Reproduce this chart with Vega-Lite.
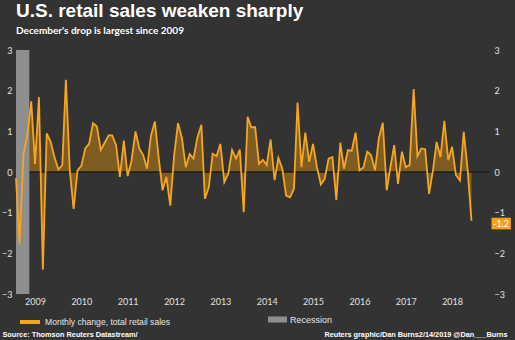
{
  "$schema": "https://vega.github.io/schema/vega-lite/v6.json",
  "width": 474,
  "height": 244,
  "autosize": "none",
  "padding": {"left": 16, "top": 50, "right": 25, "bottom": 46},
  "background": "#333333",
  "config": {
    "view": {"stroke": null},
    "legend": {"padding": 0, "rowPadding": 0}
  },
  "title": {
    "text": "U.S. retail sales weaken sharply",
    "subtitle": "December's drop is largest since 2009",
    "anchor": "start",
    "frame": "group",
    "font": "Liberation Sans",
    "fontSize": 19,
    "fontWeight": "bold",
    "color": "#ffffff",
    "subtitleFont": "Lato",
    "subtitleFontSize": 10,
    "subtitleFontWeight": "bold",
    "subtitleColor": "#ffffff",
    "subtitlePadding": 5,
    "offset": 10
  },
  "datasets": {
    "sales": [
      {"d": "2009-02-01", "v": -0.15}, {"d": "2009-03-01", "v": -1.76}, {"d": "2009-04-01", "v": 0.45}, {"d": "2009-05-01", "v": 0.9},
      {"d": "2009-06-01", "v": 1.74}, {"d": "2009-07-01", "v": 0.2}, {"d": "2009-08-01", "v": 1.84}, {"d": "2009-09-01", "v": -2.4},
      {"d": "2009-10-01", "v": 0.95}, {"d": "2009-11-01", "v": 0.74}, {"d": "2009-12-01", "v": 0.37},
      {"d": "2010-01-01", "v": 0.06}, {"d": "2010-02-01", "v": 0.17}, {"d": "2010-03-01", "v": 2.27}, {"d": "2010-04-01", "v": 0.04},
      {"d": "2010-05-01", "v": -0.91}, {"d": "2010-06-01", "v": 0.04}, {"d": "2010-07-01", "v": 0.15}, {"d": "2010-08-01", "v": 0.58},
      {"d": "2010-09-01", "v": 0.7}, {"d": "2010-10-01", "v": 1.2}, {"d": "2010-11-01", "v": 1.12}, {"d": "2010-12-01", "v": 0.54},
      {"d": "2011-01-01", "v": 0.72}, {"d": "2011-02-01", "v": 0.9}, {"d": "2011-03-01", "v": 0.9}, {"d": "2011-04-01", "v": 0.66},
      {"d": "2011-05-01", "v": -0.12}, {"d": "2011-06-01", "v": 0.77}, {"d": "2011-07-01", "v": -0.1}, {"d": "2011-08-01", "v": 0.29},
      {"d": "2011-09-01", "v": 1.0}, {"d": "2011-10-01", "v": 0.58}, {"d": "2011-11-01", "v": 0.41}, {"d": "2011-12-01", "v": 0.08},
      {"d": "2012-01-01", "v": 0.9}, {"d": "2012-02-01", "v": 1.24}, {"d": "2012-03-01", "v": 0.37}, {"d": "2012-04-01", "v": -0.45},
      {"d": "2012-05-01", "v": -0.12}, {"d": "2012-06-01", "v": -0.83}, {"d": "2012-07-01", "v": 0.4}, {"d": "2012-08-01", "v": 1.2},
      {"d": "2012-09-01", "v": 0.83}, {"d": "2012-10-01", "v": 0.12}, {"d": "2012-11-01", "v": 0.44}, {"d": "2012-12-01", "v": 0.33},
      {"d": "2013-01-01", "v": 0.85}, {"d": "2013-02-01", "v": 1.16}, {"d": "2013-03-01", "v": -0.66}, {"d": "2013-04-01", "v": -0.37},
      {"d": "2013-05-01", "v": 0.45}, {"d": "2013-06-01", "v": 0.39}, {"d": "2013-07-01", "v": 0.69}, {"d": "2013-08-01", "v": -0.25},
      {"d": "2013-09-01", "v": -0.04}, {"d": "2013-10-01", "v": 0.54}, {"d": "2013-11-01", "v": 0.33}, {"d": "2013-12-01", "v": 0.55},
      {"d": "2014-01-01", "v": -0.99}, {"d": "2014-02-01", "v": 1.36}, {"d": "2014-03-01", "v": 1.1}, {"d": "2014-04-01", "v": 1.1},
      {"d": "2014-05-01", "v": 0.2}, {"d": "2014-06-01", "v": 0.3}, {"d": "2014-07-01", "v": 0.17}, {"d": "2014-08-01", "v": 0.8},
      {"d": "2014-09-01", "v": -0.2}, {"d": "2014-10-01", "v": 0.35}, {"d": "2014-11-01", "v": 0.08}, {"d": "2014-12-01", "v": -0.58},
      {"d": "2015-01-01", "v": -0.62}, {"d": "2015-02-01", "v": -0.41}, {"d": "2015-03-01", "v": 1.71}, {"d": "2015-04-01", "v": 0.12},
      {"d": "2015-05-01", "v": 0.97}, {"d": "2015-06-01", "v": 0.25}, {"d": "2015-07-01", "v": 0.69}, {"d": "2015-08-01", "v": 0.12},
      {"d": "2015-09-01", "v": -0.31}, {"d": "2015-10-01", "v": -0.17}, {"d": "2015-11-01", "v": 0.33}, {"d": "2015-12-01", "v": 0.37},
      {"d": "2016-01-01", "v": -0.69}, {"d": "2016-02-01", "v": 0.72}, {"d": "2016-03-01", "v": 0.08}, {"d": "2016-04-01", "v": 0.54},
      {"d": "2016-05-01", "v": 0.52}, {"d": "2016-06-01", "v": 0.97}, {"d": "2016-07-01", "v": 0.04}, {"d": "2016-08-01", "v": 0.11},
      {"d": "2016-09-01", "v": 0.5}, {"d": "2016-10-01", "v": 0.41}, {"d": "2016-11-01", "v": 0.04}, {"d": "2016-12-01", "v": 0.83},
      {"d": "2017-01-01", "v": 1.21}, {"d": "2017-02-01", "v": -0.45}, {"d": "2017-03-01", "v": 0.1}, {"d": "2017-04-01", "v": 0.66},
      {"d": "2017-05-01", "v": -0.29}, {"d": "2017-06-01", "v": 0.5}, {"d": "2017-07-01", "v": 0.12}, {"d": "2017-08-01", "v": 0.17},
      {"d": "2017-09-01", "v": 2.04}, {"d": "2017-10-01", "v": 0.39}, {"d": "2017-11-01", "v": 0.58}, {"d": "2017-12-01", "v": 0.56},
      {"d": "2018-01-01", "v": -0.54}, {"d": "2018-02-01", "v": 0.05}, {"d": "2018-03-01", "v": 0.74}, {"d": "2018-04-01", "v": 0.37},
      {"d": "2018-05-01", "v": 1.26}, {"d": "2018-06-01", "v": 0.29}, {"d": "2018-07-01", "v": 0.62}, {"d": "2018-08-01", "v": -0.08},
      {"d": "2018-09-01", "v": -0.21}, {"d": "2018-10-01", "v": 0.99}, {"d": "2018-11-01", "v": 0.05}, {"d": "2018-12-01", "v": -1.2}
    ],
    "recession": [
      {"d": "2009-02-01", "d2": "2009-05-17", "label": "Recession"}
    ],
    "last": [
      {"d": "2018-12-01", "v": -1.2, "label": "-1.2"}
    ]
  },
  "layer": [
    {
      "data": {"name": "sales"},
      "mark": {"type": "area", "color": "#7f5d22", "interpolate": "linear"},
      "encoding": {
        "x": {
          "field": "d", "type": "temporal",
          "scale": {"type": "utc", "domain": [{"year": 2009, "month": 2, "date": 1, "utc": true}, {"year": 2019, "month": 4, "date": 26, "utc": true}]},
          "axis": {
            "values": [
              {"year": 2009, "month": 7, "date": 1, "utc": true}, {"year": 2010, "month": 7, "date": 1, "utc": true},
              {"year": 2011, "month": 7, "date": 1, "utc": true}, {"year": 2012, "month": 7, "date": 1, "utc": true},
              {"year": 2013, "month": 7, "date": 1, "utc": true}, {"year": 2014, "month": 7, "date": 1, "utc": true},
              {"year": 2015, "month": 7, "date": 1, "utc": true}, {"year": 2016, "month": 7, "date": 1, "utc": true},
              {"year": 2017, "month": 7, "date": 1, "utc": true}, {"year": 2018, "month": 7, "date": 1, "utc": true}
            ],
            "format": "%Y",
            "domain": false, "ticks": false, "grid": false,
            "labelPadding": 3, "labelFlush": false, "labelOverlap": false,
            "labelFont": "Lato", "labelFontSize": 9, "labelColor": "#e0e0e0",
            "title": "Source: Thomson Reuters Datastream/",
            "titleX": -14, "titleY": 42, "titleAlign": "left", "titleBaseline": "alphabetic",
            "titleFont": "Liberation Sans", "titleFontSize": 7.3, "titleFontWeight": "bold", "titleColor": "#ffffff"
          }
        },
        "y": {
          "field": "v", "type": "quantitative",
          "scale": {"domain": [-3, 3]},
          "axis": {
            "orient": "left", "values": [-3, -2, -1, 0, 1, 2, 3],
            "domain": false, "ticks": false, "grid": false, "labelPadding": 4,
            "labelFont": "Lato", "labelFontSize": 9, "labelColor": "#e0e0e0", "title": null
          }
        }
      }
    },
    {
      "data": {"name": "last"},
      "mark": {"type": "rule", "color": "#1c1c1c", "strokeWidth": 1.5},
      "encoding": {
        "y": {"datum": 0, "type": "quantitative", "scale": {"domain": [-3, 3]}, "axis": null}
      }
    },
    {
      "data": {"name": "recession"},
      "mark": {"type": "rect"},
      "encoding": {
        "x": {"field": "d", "type": "temporal", "scale": {"type": "utc", "domain": [{"year": 2009, "month": 2, "date": 1, "utc": true}, {"year": 2019, "month": 4, "date": 26, "utc": true}]}},
        "x2": {"field": "d2"},
        "fill": {
          "field": "label", "type": "nominal",
          "scale": {"range": ["#8e8e8e"]},
          "legend": {
            "orient": "none", "legendX": 252, "legendY": 260, "title": null,
            "symbolType": "M-1,-0.32L1,-0.32L1,0.32L-1,0.32Z", "symbolSize": 361, "symbolStrokeWidth": 0,
            "labelFont": "Liberation Sans", "labelFontSize": 9, "labelColor": "#e6e6e6", "labelOffset": 3
          }
        }
      }
    },
    {
      "data": {"name": "sales"},
      "mark": {"type": "line", "strokeWidth": 1.8, "interpolate": "linear"},
      "encoding": {
        "x": {"field": "d", "type": "temporal", "scale": {"type": "utc", "domain": [{"year": 2009, "month": 2, "date": 1, "utc": true}, {"year": 2019, "month": 4, "date": 26, "utc": true}]}},
        "y": {
          "field": "v", "type": "quantitative",
          "scale": {"domain": [-3, 3]},
          "axis": {
            "orient": "right", "values": [-3, -2, -1, 0, 1, 2, 3],
            "domain": false, "ticks": false, "grid": false, "labelPadding": 4,
            "labelFont": "Lato", "labelFontSize": 9, "labelColor": "#e0e0e0",
            "title": "Reuters graphic/Dan Burns2/14/2019 @Dan___Burns",
            "titleAngle": 0, "titleX": 17, "titleY": 286, "titleAlign": "right", "titleBaseline": "alphabetic",
            "titleFont": "Liberation Sans", "titleFontSize": 7.3, "titleFontWeight": "bold", "titleColor": "#ffffff"
          }
        },
        "stroke": {
          "datum": "Monthly change, total retail sales",
          "scale": {"range": ["#f5a623"]},
          "legend": {
            "orient": "none", "legendX": 2, "legendY": 260, "title": null,
            "symbolType": "stroke", "symbolSize": 400, "symbolStrokeWidth": 4,
            "labelFont": "Liberation Sans", "labelFontSize": 8.6, "labelColor": "#e6e6e6", "labelOffset": 3
          }
        }
      }
    },
    {
      "data": {"name": "last"},
      "mark": {"type": "point", "shape": "M3.45,-0.53L6.78,-0.53L6.78,1.47L3.45,1.47Z", "size": 135, "filled": true, "color": "#f5a21b", "opacity": 1, "strokeWidth": 0},
      "encoding": {
        "x": {"field": "d", "type": "temporal", "scale": {"type": "utc", "domain": [{"year": 2009, "month": 2, "date": 1, "utc": true}, {"year": 2019, "month": 4, "date": 26, "utc": true}]}},
        "y": {"field": "v", "type": "quantitative", "scale": {"domain": [-3, 3]}, "axis": null}
      }
    },
    {
      "data": {"name": "last"},
      "mark": {"type": "text", "dx": 29.6, "dy": 2.7, "align": "center", "baseline": "middle", "font": "Lato", "fontSize": 9, "color": "#ffffff"},
      "encoding": {
        "x": {"field": "d", "type": "temporal", "scale": {"type": "utc", "domain": [{"year": 2009, "month": 2, "date": 1, "utc": true}, {"year": 2019, "month": 4, "date": 26, "utc": true}]}},
        "y": {"field": "v", "type": "quantitative", "scale": {"domain": [-3, 3]}, "axis": null},
        "text": {"field": "label"}
      }
    }
  ],
  "resolve": {"axis": {"y": "independent"}}
}
